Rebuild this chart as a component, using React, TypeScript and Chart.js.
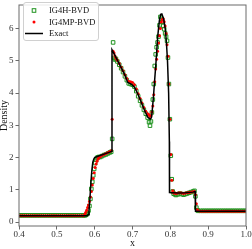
import React, { useEffect, useRef } from 'react';
import { Chart, registerables } from 'chart.js';
Chart.register(...registerables);

const xTicks = [0.4, 0.5, 0.6, 0.7, 0.8, 0.9, 1.0];
const yTicks = [0, 1, 2, 3, 4, 5, 6];
const seriesNames = ['IG4H-BVD', 'IG4MP-BVD', 'Exact'];
const xTitle = 'x';
const yTitle = 'Density';

// cell positions of the numerical solutions
const gridX = [
  0.4, 0.405, 0.41, 0.415, 0.42, 0.425, 0.43, 0.435, 0.44, 0.445, 0.45, 0.455, 0.46, 0.465, 0.47, 0.475, 0.48, 0.485,
  0.49, 0.495, 0.5, 0.505, 0.51, 0.515, 0.52, 0.525, 0.53, 0.535, 0.54, 0.545, 0.55, 0.555, 0.56, 0.565, 0.57,
  0.57375, 0.57625, 0.57875, 0.58125, 0.58375, 0.58625, 0.58875, 0.59125, 0.59375, 0.59625, 0.59875, 0.60125,
  0.60375, 0.60625, 0.60875, 0.61125,
  0.615, 0.62, 0.625, 0.63, 0.635, 0.64, 0.64375,
  0.64625, 0.64875, 0.65125, 0.65375, 0.65625,
  0.66, 0.665, 0.67, 0.675, 0.68, 0.685, 0.69, 0.695, 0.7, 0.705, 0.71, 0.715, 0.72, 0.725, 0.73, 0.735, 0.74,
  0.74375, 0.74625, 0.74875, 0.75125, 0.75375, 0.75625, 0.75875, 0.76125, 0.76375, 0.76625, 0.76875, 0.77125,
  0.77375, 0.77625, 0.77875, 0.78125, 0.78375, 0.78625, 0.78875, 0.79125, 0.79375, 0.79625, 0.79875, 0.80125,
  0.80375, 0.80625, 0.80875,
  0.8125, 0.815, 0.82, 0.825, 0.83, 0.835, 0.84, 0.845, 0.85, 0.855, 0.86, 0.86375, 0.86625, 0.86875, 0.87125, 0.87375,
  0.88, 0.885, 0.89, 0.895, 0.9, 0.905, 0.91, 0.915, 0.92, 0.925, 0.93, 0.935, 0.94, 0.945, 0.95, 0.955, 0.96,
  0.965, 0.97, 0.975, 0.98, 0.985, 0.99, 0.995, 1.0,
];

const ig4hY = [
  0.21, 0.21, 0.21, 0.21, 0.21, 0.21, 0.21, 0.21, 0.21, 0.21, 0.21, 0.21, 0.21, 0.21, 0.21, 0.21, 0.21, 0.21,
  0.21, 0.21, 0.21, 0.21, 0.21, 0.21, 0.21, 0.21, 0.21, 0.21, 0.21, 0.21, 0.21, 0.21, 0.21, 0.21, 0.21,
  0.21, 0.22, 0.24, 0.28, 0.36, 0.5, 0.72, 1.03, 1.25, 1.45, 1.65, 1.83,
  1.94, 1.99, 2.01, 2.02,
  2.02, 2.05, 2.08, 2.1, 2.13, 2.16, 2.18,
  2.58, 5.57, 5.09, 5.04, 5.06,
  4.98, 4.88, 4.77, 4.65, 4.52, 4.4, 4.3, 4.28, 4.26, 4.2, 4.06, 3.9, 3.76, 3.62, 3.48, 3.36, 3.24,
  3.1, 2.99, 3.12, 3.4, 3.8, 4.28, 4.84, 5.2, 5.42, 5.57, 5.75, 6.1,
  6.36, 6.3, 6.21, 6.08, 5.98, 5.85, 5.75, 5.62, 5.1, 4.28, 3.19, 2.06,
  1.33, 0.95, 0.88,
  0.86, 0.84, 0.86, 0.89, 0.87, 0.85, 0.87, 0.89, 0.91, 0.93, 0.95, 0.97, 0.8, 0.45, 0.37, 0.35,
  0.35, 0.35, 0.35, 0.35, 0.35, 0.35, 0.35, 0.35, 0.35, 0.35, 0.35, 0.35, 0.35, 0.35, 0.35, 0.35, 0.35,
  0.35, 0.35, 0.35, 0.35, 0.35, 0.35, 0.35, 0.35,
];

const ig4mpY = [
  0.2, 0.2, 0.2, 0.2, 0.2, 0.2, 0.2, 0.2, 0.2, 0.2, 0.2, 0.2, 0.2, 0.2, 0.2, 0.2, 0.2, 0.2,
  0.2, 0.2, 0.2, 0.2, 0.2, 0.2, 0.2, 0.2, 0.2, 0.2, 0.2, 0.2, 0.2, 0.2, 0.2, 0.2, 0.2,
  0.24, 0.3, 0.37, 0.45, 0.53, 0.64, 0.78, 0.95, 1.15, 1.35, 1.53, 1.69,
  1.8, 1.89, 1.96, 2.0,
  2.03, 2.07, 2.1, 2.13, 2.16, 2.19, 2.21,
  3.19, 5.3, 5.24, 5.15, 5.08,
  5.02, 4.92, 4.8, 4.69, 4.57, 4.45, 4.37, 4.35, 4.33, 4.26, 4.13, 3.98, 3.83, 3.69, 3.55, 3.44, 3.36,
  3.33, 3.28, 3.3, 3.41, 3.6, 3.95, 4.35, 4.75, 5.05, 5.3, 5.55, 5.78,
  6.0, 6.2, 6.28, 6.3, 6.21, 6.08, 5.85, 5.5, 5.14, 4.28, 3.19, 2.1,
  1.3, 0.97, 0.9,
  0.9, 0.89, 0.9, 0.91, 0.9, 0.89, 0.9, 0.91, 0.92, 0.93, 0.94, 0.95, 0.85, 0.57, 0.38, 0.35,
  0.34, 0.34, 0.34, 0.34, 0.34, 0.34, 0.34, 0.34, 0.34, 0.34, 0.34, 0.34, 0.34, 0.34, 0.34, 0.34, 0.34,
  0.34, 0.34, 0.34, 0.34, 0.34, 0.34, 0.34, 0.34,
];

const exactX = [
  0.4, 0.58, 0.5825, 0.585, 0.5875, 0.59, 0.5925, 0.595, 0.5975, 0.6, 0.61, 0.62, 0.63, 0.64, 0.6455, 0.6458,
  0.6526, 0.6613, 0.67, 0.679, 0.6876, 0.6966, 0.7053, 0.714, 0.723, 0.7316, 0.74, 0.7466, 0.75, 0.7518, 0.7555,
  0.7579, 0.7624, 0.7666, 0.7711, 0.7745, 0.7775, 0.7824, 0.7865, 0.7895, 0.7925, 0.7955, 0.7974, 0.7978, 0.82,
  0.84, 0.86, 0.8655, 0.8665, 1.0,
];
const exactY = [
  0.2, 0.2, 0.23, 0.35, 0.75, 1.2, 1.6, 1.85, 1.95, 2.0, 2.05, 2.09, 2.13, 2.17, 2.2, 5.34,
  5.19, 4.99, 4.79, 4.58, 4.33, 4.28, 4.18, 3.97, 3.72, 3.47, 3.26, 3.19, 3.24, 3.41, 3.9,
  4.3, 5.0, 5.75, 6.25, 6.44, 6.45, 6.3, 6.0, 5.6, 5.0, 4.0, 2.5, 0.92, 0.9,
  0.91, 0.93, 0.95, 0.34, 0.34,
];

const GREEN = '#1f931f';
const RED = '#ff0000';
const FONT = "'Liberation Serif', 'Times New Roman', serif";

const frameLegendPlugin = {
  id: 'frameLegend',
  afterDraw(chart: any) {
    const { ctx, chartArea: a } = chart;
    ctx.save();
    ctx.strokeStyle = '#6a6a6a';
    ctx.lineWidth = 1;
    ctx.strokeRect(a.left, a.top, a.right - a.left, a.bottom - a.top);

    const bx = 23, by = 2, bw = 75, bh = 38;
    ctx.beginPath();
    if (ctx.roundRect) ctx.roundRect(bx + 0.5, by + 0.5, bw, bh, 2.5);
    else ctx.rect(bx + 0.5, by + 0.5, bw, bh);
    ctx.fillStyle = 'rgba(255,255,255,0.85)';
    ctx.fill();
    ctx.strokeStyle = '#d0d0d0';
    ctx.stroke();

    const rows = [10.5, 22, 33.5];
    const mx = 34;
    ctx.strokeStyle = GREEN;
    ctx.lineWidth = 1;
    ctx.strokeRect(mx - 1.8, rows[0] - 1.8, 3.6, 3.6);
    ctx.fillStyle = RED;
    ctx.beginPath();
    ctx.arc(mx, rows[1], 1.5, 0, Math.PI * 2);
    ctx.fill();
    ctx.strokeStyle = '#000';
    ctx.lineWidth = 1.5;
    ctx.beginPath();
    ctx.moveTo(25, rows[2]);
    ctx.lineTo(43, rows[2]);
    ctx.stroke();

    ctx.fillStyle = '#111';
    ctx.font = `8.5px ${FONT}`;
    ctx.textBaseline = 'middle';
    ctx.textAlign = 'left';
    seriesNames.forEach((n, i) => ctx.fillText(n, 49, rows[i] + 0.5));
    ctx.restore();
  },
};

export default function App() {
  const ref = useRef<HTMLCanvasElement>(null);
  useEffect(() => {
    const greenPts = gridX.map((x, i) => ({ x, y: ig4hY[i] }));
    const redPts = gridX.map((x, i) => ({ x, y: ig4mpY[i] }));
    const exactPts = exactX.map((x, i) => ({ x, y: exactY[i] }));
    const chart = new Chart(ref.current as HTMLCanvasElement, {
      type: 'scatter',
      data: {
        datasets: [
          {
            label: seriesNames[2],
            data: exactPts,
            showLine: true,
            borderColor: '#000',
            borderWidth: 1.5,
            pointRadius: 0,
            tension: 0,
            order: 1,
          },
          {
            label: seriesNames[1],
            data: redPts,
            pointStyle: 'circle',
            pointRadius: 1.5,
            backgroundColor: RED,
            borderWidth: 0,
            order: 2,
          },
          {
            label: seriesNames[0],
            data: greenPts,
            pointStyle: 'rect',
            pointRadius: 2.5,
            backgroundColor: 'rgba(0,0,0,0)',
            borderColor: GREEN,
            borderWidth: 1,
            order: 3,
          },
        ],
      } as any,
      options: {
        responsive: false,
        animation: false,
        devicePixelRatio: 1,
        events: [],
        layout: { padding: { left: 0, right: 6, top: 1, bottom: 0 } },
        plugins: { legend: { display: false }, tooltip: { enabled: false } },
        scales: {
          x: {
            type: 'linear',
            min: 0.4,
            max: 1.0,
            afterBuildTicks: (s: any) => {
              s.ticks = xTicks.map((v) => ({ value: v }));
            },
            afterFit: (s: any) => {
              s.height = 23;
              s.paddingLeft = 0;
              s.paddingRight = 0;
              s.paddingTop = 0;
              s.paddingBottom = 0;
            },
            border: { display: false },
            grid: { display: true, drawOnChartArea: false, drawTicks: true, tickLength: 3.5, tickColor: '#6a6a6a', tickWidth: 1 },
            ticks: {
              padding: 0,
              maxRotation: 0,
              autoSkip: false,
              color: '#333',
              font: { family: FONT, size: 9 },
              callback: (v: any) => Number(v).toFixed(1),
            },
            title: { display: true, text: xTitle, color: '#111', font: { family: FONT, size: 10 }, padding: 0 },
          },
          y: {
            type: 'linear',
            min: -0.12,
            max: 6.73,
            afterBuildTicks: (s: any) => {
              s.ticks = yTicks.map((v) => ({ value: v }));
            },
            afterFit: (s: any) => {
              s.width = 19;
              s.paddingLeft = 0;
              s.paddingRight = 0;
              s.paddingTop = 0;
              s.paddingBottom = 0;
            },
            border: { display: false },
            grid: { display: true, drawOnChartArea: false, drawTicks: true, tickLength: 3.5, tickColor: '#6a6a6a', tickWidth: 1 },
            ticks: {
              padding: 2,
              autoSkip: false,
              color: '#333',
              font: { family: FONT, size: 9 },
              callback: (v: any) => String(v),
            },
            title: { display: true, text: yTitle, color: '#111', font: { family: FONT, size: 10, lineHeight: 0.9 }, padding: 0 },
          },
        },
      } as any,
      plugins: [frameLegendPlugin],
    });
    return () => chart.destroy();
  }, []);
  return (
    <div style={{ position: 'fixed', left: 0, top: 0, width: 252, height: 249 }}>
      <canvas ref={ref} width={252} height={249} style={{ width: 252, height: 249, display: 'block' }} />
    </div>
  );
}
